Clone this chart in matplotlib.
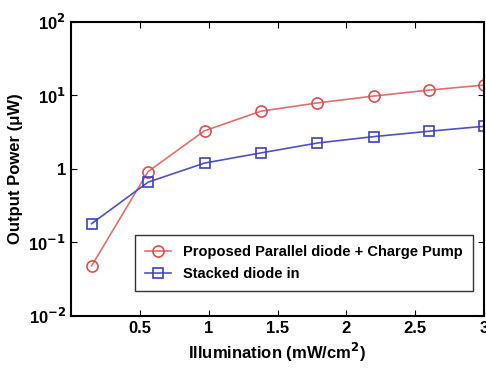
import numpy as np
import matplotlib
matplotlib.use('Agg')
import matplotlib.pyplot as plt
from matplotlib.ticker import FixedLocator, NullLocator

# illumination in mW/cm^2
illum = [0.15, 0.56, 0.97, 1.38, 1.79, 2.2, 2.6, 3.0]
# output power in uW
p_parallel = [0.048, 0.92, 3.3, 6.1, 7.9, 9.8, 11.8, 13.8]
p_stacked = [0.18, 0.66, 1.2, 1.65, 2.25, 2.75, 3.25, 3.8]

ytick_vals = [1e-2, 1e-1, 1, 1e1, 1e2]
ytick_labels = ['10$^{-2}$', '10$^{-1}$', '1', '10$^{1}$', '10$^{2}$']
xtick_vals = [0.5, 1, 1.5, 2, 2.5, 3]
xtick_labels = ['0.5', '1', '1.5', '2', '2.5', '3']

plt.rcParams['font.family'] = ['Liberation Sans', 'DejaVu Sans']
plt.rcParams['font.weight'] = 'bold'
plt.rcParams['mathtext.default'] = 'bf'

fig = plt.figure(figsize=(4.86, 3.77), dpi=100)
ax = fig.add_axes([0.146, 0.162, 0.850, 0.780])

ax.plot(illum, p_parallel, '-o', color='#e07070', mfc='none', mec='#d85050',
        ms=8, lw=1.2, mew=1.2, label='Proposed Parallel diode + Charge Pump')
ax.plot(illum, p_stacked, '-s', color='#5050c8', mfc='none', mec='#4040c0',
        ms=7, lw=1.2, mew=1.2, label='Stacked diode in')

ax.set_yscale('log')
ax.set_ylim(1e-2, 1e2)
ax.set_xlim(0, 3)
ax.yaxis.set_major_locator(FixedLocator(ytick_vals))
ax.yaxis.set_minor_locator(NullLocator())
ax.set_yticklabels(ytick_labels)
ax.set_xticks(xtick_vals)
ax.set_xticklabels(xtick_labels)

ax.tick_params(direction='in', top=True, right=True, labelsize=12, length=4)
for s in ax.spines.values():
    s.set_linewidth(1.5)

ax.set_xlabel('Illumination (mW/cm$^2$)', fontsize=12, fontweight='bold')
ax.set_ylabel('Output Power (\u03bcW)', fontsize=12, fontweight='bold')

leg = ax.legend(loc='lower right', fontsize=10.5, frameon=True, fancybox=False,
                edgecolor='black', handlelength=1.8, borderpad=0.7,
                bbox_to_anchor=(0.99, 0.06))
leg.get_frame().set_linewidth(1.0)

fig.savefig('out.png', dpi=100)
